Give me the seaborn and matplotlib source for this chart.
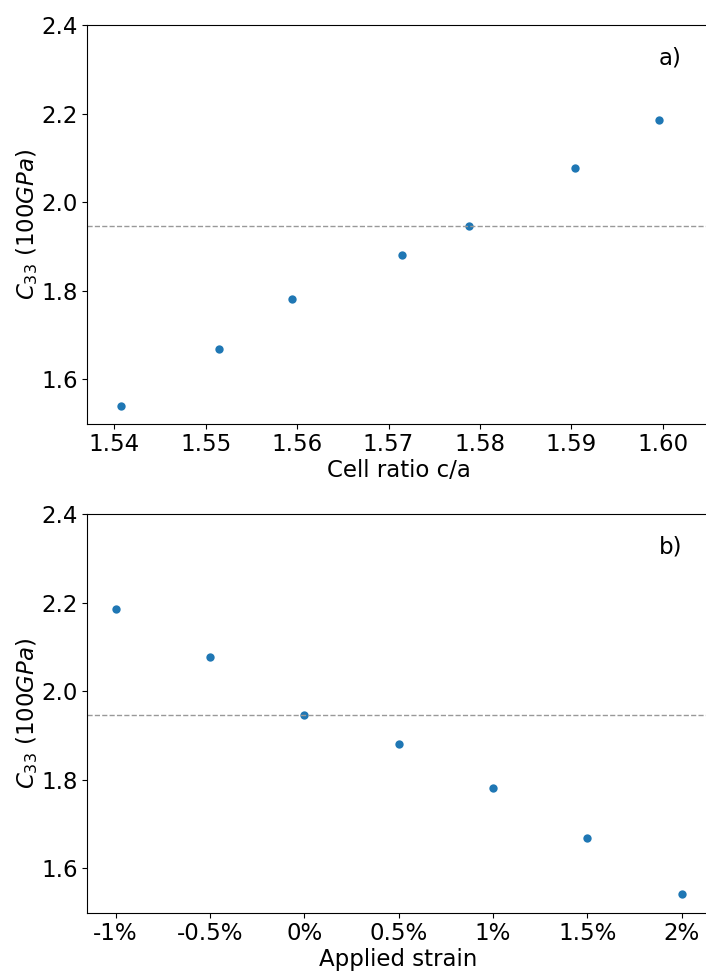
import numpy as np
import pandas as pd
import matplotlib
matplotlib.use('Agg')
import matplotlib.pyplot as plt
import seaborn as sns

# Data
cell_ratio = [1.5407, 1.5514, 1.5594, 1.5715, 1.5788, 1.5904, 1.5996]
c33_ratio = [1.541, 1.669, 1.782, 1.881, 1.947, 2.078, 2.186]

strain = [-1.0, -0.5, 0.0, 0.5, 1.0, 1.5, 2.0]
strain_labels = ['-1%', '-0.5%', '0%', '0.5%', '1%', '1.5%', '2%']
c33_strain = [2.185, 2.078, 1.947, 1.882, 1.781, 1.669, 1.542]

c33_ref = 1.947

sns.set_style('ticks')
plt.rcParams['font.family'] = ['DejaVu Sans']
plt.rcParams['mathtext.fontset'] = 'dejavusans'
plt.rcParams['text.color'] = 'black'
plt.rcParams['axes.labelcolor'] = 'black'
plt.rcParams['xtick.color'] = 'black'
plt.rcParams['ytick.color'] = 'black'
fs = 16.5
blue = '#1f77b4'
ylabel = '$C_{33}$ (100$GPa$)'

fig = plt.figure(figsize=(7.06, 9.73), dpi=100)
ax1 = fig.add_axes([0.1237, 0.5645, 0.882, 0.4098])
ax2 = fig.add_axes([0.1237, 0.0620, 0.882, 0.4095])

# Panel a) C33 vs cell ratio
df_a = pd.DataFrame({'ratio': cell_ratio, 'c33': c33_ratio})
sns.scatterplot(data=df_a, x='ratio', y='c33', ax=ax1, color=blue, s=36, linewidth=0)
ax1.axhline(c33_ref, color='#999999', linestyle='--', linewidth=1)
ax1.set_xlim(1.53705, 1.60517)
ax1.set_ylim(1.5, 2.4)
ax1.set_xticks([1.54, 1.55, 1.56, 1.57, 1.58, 1.59, 1.60])
ax1.set_xticklabels(['1.54', '1.55', '1.56', '1.57', '1.58', '1.59', '1.60'])
ax1.set_yticks([1.6, 1.8, 2.0, 2.2, 2.4])
ax1.set_xlabel('Cell ratio c/a', fontsize=fs, labelpad=2)
ax1.set_ylabel(ylabel, fontsize=fs, labelpad=1)
ax1.text(0.918, 0.917, 'a)', transform=ax1.transAxes, fontsize=fs, ha='left', va='center')

# Panel b) C33 vs applied strain
df_b = pd.DataFrame({'strain': strain, 'c33': c33_strain})
sns.scatterplot(data=df_b, x='strain', y='c33', ax=ax2, color=blue, s=36, linewidth=0)
ax2.axhline(c33_ref, color='#999999', linestyle='--', linewidth=1)
ax2.set_xlim(-1.15, 2.15)
ax2.set_ylim(1.5, 2.4)
ax2.set_xticks(strain)
ax2.set_xticklabels(strain_labels)
ax2.set_yticks([1.6, 1.8, 2.0, 2.2, 2.4])
ax2.set_xlabel('Applied strain', fontsize=fs, labelpad=2)
ax2.set_ylabel(ylabel, fontsize=fs, labelpad=1)
ax2.text(0.918, 0.917, 'b)', transform=ax2.transAxes, fontsize=fs, ha='left', va='center')

for ax in (ax1, ax2):
    ax.spines['right'].set_visible(False)
    for side in ('top', 'left', 'bottom'):
        ax.spines[side].set_linewidth(0.8)
        ax.spines[side].set_color('black')
    ax.tick_params(labelsize=fs, length=3.5, width=0.8, direction='out',
                   colors='black')

fig.savefig('out.png', dpi=100)
